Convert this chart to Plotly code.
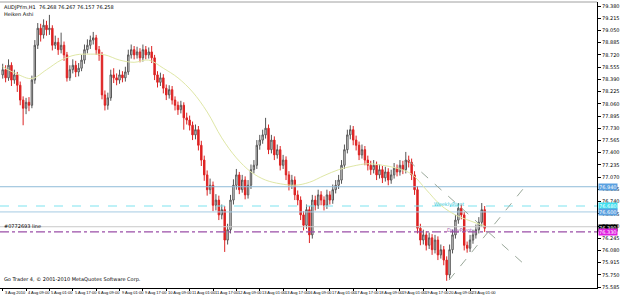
import plotly.graph_objects as go

# ---------------- data (2-hour bars) ----------------
first_open = 78.45
closes = [78.52, 78.41, 78.58, 78.38, 78.45, 78.31, 78.11, 78.00, 78.08, 78.04,
          78.38, 78.85, 79.08, 78.99, 79.12, 79.06, 79.08, 78.85, 78.89, 78.79,
          78.85, 78.72, 78.41, 78.52, 78.58, 78.49, 78.54, 78.65, 78.79, 78.85,
          78.92, 78.95, 78.79, 78.72, 78.18, 78.04, 78.14, 78.45, 78.41, 78.38,
          78.45, 78.41, 78.49, 78.72, 78.79, 78.72, 78.76, 78.68, 78.79, 78.72,
          78.76, 78.68, 78.45, 78.35, 78.41, 78.27, 78.18, 78.25, 78.11, 78.04,
          77.98, 78.04, 77.87, 77.84, 77.77, 77.64, 77.71, 77.50, 77.30, 77.10,
          76.90, 76.96, 76.69, 76.76, 76.56, 76.63, 76.22, 76.36, 76.76, 76.96,
          77.10, 76.90, 77.03, 76.83, 76.96, 77.17, 77.23, 77.50, 77.57, 77.64,
          77.73, 77.44, 77.57, 77.37, 77.44, 77.23, 77.30, 77.10, 76.96, 77.03,
          76.83, 76.76, 76.56, 76.42, 76.63, 76.29, 76.76, 76.69, 76.83, 76.76,
          76.69, 76.83, 76.76, 76.90, 76.96, 77.03, 77.23, 77.44, 77.64, 77.71,
          77.57, 77.50, 77.37, 77.44, 77.30, 77.23, 77.17, 77.23, 77.10, 77.17,
          77.06, 77.14, 77.03, 77.10, 77.19, 77.14, 77.23, 77.17, 77.30, 77.27,
          77.10, 76.90, 76.38, 76.22, 76.29, 76.15, 76.25, 76.09, 76.22, 76.02,
          76.09, 75.95, 75.75, 76.09, 76.29, 76.49, 76.65, 76.56, 76.15, 76.11,
          76.22, 76.29, 76.36, 76.46, 76.63, 76.38]
highs = [78.60, 78.58, 78.66, 78.62, 78.52, 78.49, 78.36, 78.16, 78.14, 78.15,
         78.44, 78.92, 79.15, 79.14, 79.20, 79.18, 79.26, 79.12, 78.98, 78.95,
         79.02, 78.90, 78.76, 78.58, 78.66, 78.64, 78.61, 78.72, 78.86, 78.93,
         78.98, 79.03, 78.99, 78.84, 78.76, 78.24, 78.21, 78.52, 78.54, 78.47,
         78.52, 78.50, 78.56, 78.79, 78.86, 78.84, 78.83, 78.81, 78.86, 78.84,
         78.82, 78.84, 78.72, 78.50, 78.48, 78.46, 78.32, 78.31, 78.30, 78.16,
         78.09, 78.10, 78.08, 77.94, 77.90, 77.82, 77.78, 77.76, 77.56, 77.36,
         77.16, 77.05, 77.01, 76.84, 76.82, 76.70, 76.68, 76.44, 76.83, 77.04,
         77.18, 77.14, 77.10, 77.08, 77.03, 77.24, 77.30, 77.57, 77.64, 77.71,
         77.87, 77.78, 77.64, 77.62, 77.51, 77.49, 77.37, 77.35, 77.15, 77.10,
         77.08, 76.89, 76.81, 76.61, 76.70, 76.68, 76.83, 76.82, 76.90, 76.88,
         76.81, 76.90, 76.88, 76.97, 77.03, 77.10, 77.30, 77.51, 77.71, 77.77,
         77.76, 77.63, 77.55, 77.51, 77.49, 77.36, 77.29, 77.30, 77.28, 77.24,
         77.22, 77.21, 77.19, 77.17, 77.26, 77.24, 77.30, 77.29, 77.41, 77.36,
         77.32, 77.15, 76.95, 76.44, 76.36, 76.34, 76.32, 76.30, 76.29, 76.27,
         76.16, 76.14, 76.00, 76.16, 76.36, 76.56, 76.72, 76.70, 76.60, 76.20,
         76.29, 76.36, 76.43, 76.53, 76.72, 76.68]
lows = [78.40, 78.35, 78.37, 78.30, 78.33, 78.22, 78.04, 77.77, 77.92, 77.96,
        78.00, 78.33, 78.80, 78.90, 78.94, 78.98, 78.99, 78.78, 78.80, 78.72,
        78.74, 78.64, 78.36, 78.37, 78.47, 78.42, 78.43, 78.50, 78.60, 78.74,
        78.80, 78.86, 78.72, 78.64, 78.12, 77.97, 77.98, 78.10, 78.34, 78.31,
        78.33, 78.35, 78.36, 78.45, 78.67, 78.66, 78.67, 78.62, 78.63, 78.66,
        78.67, 78.61, 78.38, 78.28, 78.30, 78.20, 78.11, 78.13, 78.05, 77.97,
        77.91, 77.93, 77.71, 77.78, 77.70, 77.57, 77.58, 77.43, 77.22, 77.02,
        76.82, 76.84, 76.61, 76.62, 76.49, 76.50, 76.06, 76.16, 76.31, 76.70,
        76.90, 76.84, 76.86, 76.77, 76.78, 76.91, 77.12, 77.18, 77.44, 77.52,
        77.59, 77.38, 77.39, 77.30, 77.32, 77.16, 77.18, 77.03, 76.89, 76.91,
        76.76, 76.69, 76.49, 76.35, 76.37, 76.18, 76.24, 76.62, 76.64, 76.69,
        76.62, 76.64, 76.70, 76.71, 76.85, 76.91, 76.98, 77.18, 77.39, 77.58,
        77.50, 77.43, 77.30, 77.32, 77.23, 77.16, 77.10, 77.12, 77.03, 77.05,
        76.99, 77.01, 76.96, 76.98, 77.05, 77.08, 77.09, 77.11, 77.12, 77.20,
        77.03, 76.83, 76.31, 76.15, 76.16, 76.08, 76.10, 76.02, 76.04, 75.95,
        75.97, 75.88, 75.67, 75.70, 76.04, 76.24, 76.44, 76.50, 76.08, 76.05,
        76.06, 76.17, 76.24, 76.31, 76.41, 76.33]

# moving average, read every 5 bars
ma_bars = [0, 5, 10, 15, 20, 25, 30, 35, 40, 45, 50, 55, 60, 65, 70, 75, 80, 85,
           90, 95, 100, 105, 110, 115, 120, 125, 130, 135, 140, 145, 150, 155, 160, 165]
ma_vals = [78.56, 78.46, 78.40, 78.52, 78.65, 78.72, 78.73, 78.72, 78.65, 78.62,
           78.65, 78.54, 78.41, 78.22, 77.95, 77.60, 77.33, 77.14, 77.03, 76.98,
           76.96, 77.00, 77.09, 77.17, 77.22, 77.25, 77.23, 77.19, 77.11, 76.90,
           76.69, 76.56, 76.48, 76.41]

# horizontal levels
level_blue_top = 76.94
weekly_pivot = 76.68
level_blue_low = 76.60
ask_line = 76.40
daily_pivot = 76.33
last_price = 76.38

# trend lines (bar index, price)
fan_down_x = [138.75, 177.8]
fan_down_y = [77.30, 75.92]
fan_up_x = [152.8, 179.8]
fan_up_y = [75.68, 76.99]

# axis labels
y_ticks = [79.380, 79.215, 79.050, 78.885, 78.720, 78.555, 78.390, 78.225,
           78.060, 77.895, 77.730, 77.565, 77.400, 77.235, 77.070, 76.905,
           76.740, 76.575, 76.410, 76.245, 76.080, 75.915, 75.750, 75.585]
x_labels = ["3 Aug 2010", "4 Aug 09:00", "5 Aug 01:00", "5 Aug 17:00", "6 Aug 09:00",
            "9 Aug 01:00", "9 Aug 17:00", "10 Aug 09:00", "11 Aug 01:00", "11 Aug 17:00",
            "12 Aug 09:00", "13 Aug 01:00", "13 Aug 17:00", "16 Aug 09:00", "17 Aug 01:00",
            "17 Aug 17:00", "18 Aug 09:00", "19 Aug 01:00", "19 Aug 17:00", "20 Aug 09:00",
            "23 Aug 01:00"]
bars_per_label = 8

# ---------------- figure ----------------
n = min(len(closes), len(highs), len(lows))
closes, highs, lows = closes[:n], highs[:n], lows[:n]
opens = [first_open] + closes[:-1]
bars = list(range(n))

FONT = "DejaVu Sans"
NARROW = "Liberation Sans Narrow, Liberation Sans, Arial"
fig = go.Figure()

xr = [-0.92, 203.46]

def hline(price, color, dash, width=1):
    fig.add_trace(go.Scatter(x=xr, y=[price, price], mode="lines",
                             line=dict(color=color, width=width, dash=dash),
                             hoverinfo="skip", showlegend=False))

hline(level_blue_top, "#8fbcd8", "solid")
hline(weekly_pivot, "#7fe3f0", "dash", 1.2)
hline(level_blue_low, "#a6cbe3", "solid")
hline(ask_line, "#c8c8c8", "solid")
hline(daily_pivot, "#9b4fa8", "dashdot", 1.2)

fig.add_trace(go.Scatter(x=fan_down_x, y=fan_down_y, mode="lines",
                         line=dict(color="#9aa89a", width=1, dash="dash"),
                         hoverinfo="skip", showlegend=False))
fig.add_trace(go.Scatter(x=fan_up_x, y=fan_up_y, mode="lines",
                         line=dict(color="#9aa89a", width=1, dash="dash"),
                         hoverinfo="skip", showlegend=False))

fig.add_trace(go.Candlestick(
    x=bars, open=opens, high=highs, low=lows, close=closes,
    increasing=dict(line=dict(color="#555555", width=1), fillcolor="#f4f4f4"),
    decreasing=dict(line=dict(color="#dd2222", width=1), fillcolor="#dd2222"),
    whiskerwidth=0, showlegend=False, hoverinfo="skip"))

fig.add_trace(go.Scatter(x=ma_bars, y=ma_vals, mode="lines", line_shape="spline",
                         line=dict(color="#dfe7a6", width=1),
                         hoverinfo="skip", showlegend=False))

tick_pos = [i * bars_per_label for i in range(len(x_labels))]

annotations = []
for p, t in zip(tick_pos, x_labels):
    annotations.append(dict(x=p, y=0, xref="x", yref="paper", text=t, showarrow=False,
                            xanchor="left", yanchor="top", yshift=0, xshift=0,
                            font=dict(family=NARROW, size=4, color="#000000")))

def price_box(price, bg, fg):
    annotations.append(dict(x=1, y=price, xref="paper", yref="y", text=f"{price:.3f}",
                            showarrow=False, xanchor="left", yanchor="middle", xshift=1,
                            bgcolor=bg, borderpad=0,
                            font=dict(family=FONT, size=5, color=fg)))

price_box(level_blue_top, "#5aa0e0", "#ffffff")
price_box(weekly_pivot, "#40e0f0", "#ffffff")
price_box(level_blue_low, "#5aa0e0", "#ffffff")
price_box(last_price, "#000000", "#ffffff")
price_box(daily_pivot, "#e020e0", "#ffffff")

def text(x, y, t, color, xref="x", yref="y", yanchor="bottom"):
    annotations.append(dict(x=x, y=y, xref=xref, yref=yref, text=t, showarrow=False,
                            xanchor="left", yanchor=yanchor,
                            font=dict(family=FONT, size=5, color=color)))

text(0.003, 1.0, "AUDJPYm,H1  76.268 76.267 76.157 76.258", "#000000", "paper", "paper", "top")
text(0.003, 0.975, "Heiken Ashi", "#000000", "paper", "paper", "top")
text(0.003, 0.012, "Go Trader 4, © 2001-2010 MetaQuotes Software Corp.", "#000000", "paper", "paper", "bottom")
text(-0.2, daily_pivot + 0.01, "#0772693 line", "#000000")
text(147, weekly_pivot - 0.06, "WeeklyPivot", "#30c8d8")
text(151.5, daily_pivot - 0.06, "DailyPivot", "#9b4fa8")

fig.update_layout(
    width=625, height=295,
    margin=dict(l=0, r=28, t=2, b=7),
    paper_bgcolor="#ffffff", plot_bgcolor="#ffffff",
    font=dict(family=FONT, size=5, color="#000000"),
    annotations=annotations,
    showlegend=False,
    shapes=[dict(type="line", xref="paper", yref="paper", x0=0, x1=1, y0=1, y1=1,
                 line=dict(color="#a0a0a0", width=1))],
)
fig.update_xaxes(range=xr, showgrid=False, zeroline=False, rangeslider_visible=False,
                 tickvals=tick_pos, showticklabels=False, ticks="outside", ticklen=2,
                 tickcolor="#000000", showline=True, linecolor="#000000", linewidth=1)
fig.update_yaxes(range=[75.573, 79.434], side="right", showgrid=False, zeroline=False,
                 tickvals=y_ticks, ticktext=[f"{v:.3f}" for v in y_ticks],
                 ticks="outside", ticklen=3, tickcolor="#000000",
                 tickfont=dict(family=FONT, size=5, color="#000000"),
                 showline=True, linecolor="#000000", linewidth=1)

fig.write_html("out.html")
